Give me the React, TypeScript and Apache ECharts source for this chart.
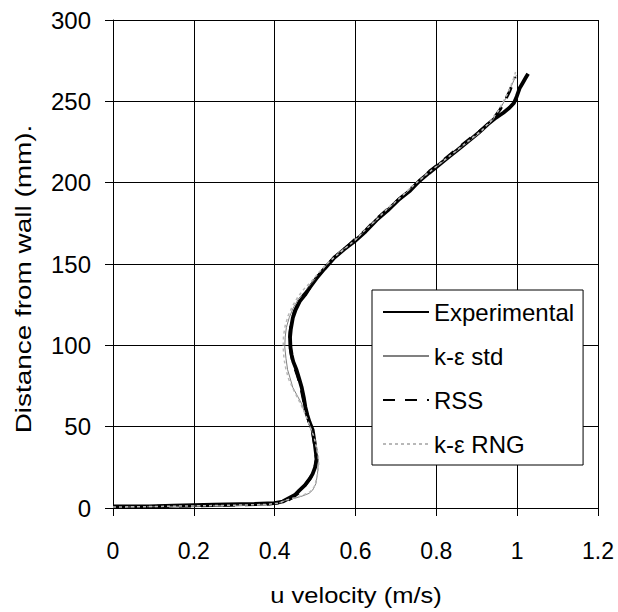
import React, { useEffect, useRef } from "react";
import * as echarts from "echarts";

// [u velocity (m/s), distance from wall (mm)]
const experimental: number[][] = [
  [0, 1], [0.09, 1], [0.15, 1.5], [0.25, 2], [0.35, 2.5], [0.4, 3], [0.42, 4], [0.435, 6], [0.45, 8],
  [0.46, 10.5], [0.475, 14], [0.487, 18], [0.494, 21], [0.5, 25], [0.504, 30], [0.502, 34], [0.499, 40],
  [0.494, 48], [0.486, 53], [0.481, 57], [0.476, 62], [0.472, 68], [0.467, 74], [0.46, 80], [0.454, 85],
  [0.446, 90], [0.442, 94], [0.439, 99], [0.438, 105], [0.44, 110], [0.445, 117], [0.452, 122], [0.462, 127],
  [0.475, 131], [0.488, 136], [0.503, 141], [0.523, 147], [0.548, 154], [0.572, 159], [0.598, 164],
  [0.625, 170], [0.652, 177], [0.68, 183], [0.709, 190], [0.735, 195], [0.758, 201], [0.782, 206],
  [0.807, 211], [0.832, 216], [0.857, 221], [0.882, 226], [0.906, 231], [0.928, 236], [0.948, 240],
  [0.966, 243], [0.981, 246], [0.992, 249], [0.999, 253], [1.006, 258], [1.013, 261], [1.02, 264], [1.027, 267],
];

const kEpsStd: number[][] = [
  [0, 0.5], [0.1, 0.8], [0.2, 1.2], [0.3, 1.6], [0.38, 2], [0.41, 3], [0.43, 5], [0.45, 6], [0.47, 7.5],
  [0.485, 9], [0.494, 11], [0.502, 15], [0.506, 21], [0.508, 28], [0.506, 33], [0.503, 37], [0.497, 43],
  [0.491, 48], [0.485, 52], [0.478, 56], [0.472, 60], [0.467, 64], [0.456, 69], [0.445, 74], [0.438, 80],
  [0.432, 85], [0.428, 92], [0.425, 99], [0.426, 105], [0.429, 111], [0.436, 117], [0.446, 123], [0.46, 129],
  [0.475, 133], [0.49, 138], [0.508, 143], [0.53, 150], [0.552, 156], [0.575, 160], [0.598, 164],
  [0.625, 171], [0.652, 177], [0.68, 184], [0.709, 190], [0.735, 196], [0.758, 201], [0.782, 207],
  [0.807, 211], [0.848, 219], [0.889, 227], [0.915, 232], [0.938, 238], [0.955, 244], [0.968, 250],
  [0.978, 255], [0.985, 259], [0.992, 263], [0.998, 266],
];

const rss: number[][] = [
  [0, 0.8], [0.1, 1], [0.2, 1.3], [0.3, 1.8], [0.38, 2.3], [0.41, 3.2], [0.43, 4.5], [0.445, 6.5], [0.458, 9],
  [0.472, 13], [0.486, 17.5], [0.494, 21], [0.5, 25], [0.503, 30], [0.501, 35], [0.498, 40], [0.493, 48],
  [0.485, 53], [0.479, 58], [0.474, 63], [0.469, 69], [0.464, 75], [0.457, 81], [0.45, 86], [0.444, 91],
  [0.44, 96], [0.437, 102], [0.438, 108], [0.442, 115], [0.449, 121], [0.459, 126], [0.472, 131],
  [0.486, 135], [0.502, 141], [0.522, 147], [0.547, 154], [0.572, 159], [0.598, 165], [0.626, 171],
  [0.653, 178], [0.681, 184], [0.709, 190], [0.735, 196], [0.759, 201], [0.783, 207], [0.808, 212],
  [0.848, 220], [0.888, 228], [0.915, 233], [0.94, 239], [0.958, 245], [0.971, 251], [0.981, 256],
  [0.989, 261], [0.995, 265],
];

const kEpsRng: number[][] = [
  [0, 0.6], [0.1, 0.9], [0.2, 1.3], [0.3, 1.7], [0.38, 2.2], [0.41, 3], [0.43, 5], [0.45, 6.3], [0.47, 7.8],
  [0.488, 10], [0.498, 13], [0.505, 19], [0.509, 26], [0.508, 32], [0.504, 37], [0.497, 44], [0.489, 49],
  [0.48, 55], [0.47, 61], [0.458, 67], [0.446, 73], [0.435, 79], [0.428, 85], [0.423, 92], [0.421, 99],
  [0.422, 106], [0.426, 112], [0.433, 118], [0.444, 124], [0.458, 130], [0.474, 135], [0.49, 139],
  [0.51, 145], [0.533, 151], [0.556, 156], [0.576, 160], [0.596, 164], [0.624, 171], [0.651, 177],
  [0.679, 184], [0.707, 190], [0.733, 196], [0.756, 201], [0.78, 206], [0.805, 211], [0.846, 219],
  [0.886, 227], [0.912, 232], [0.935, 238], [0.953, 244], [0.966, 250], [0.977, 255], [0.985, 260],
  [0.991, 264], [0.996, 268],
];

const seriesNames = ["Experimental", "k-ε std", "RSS", "k-ε RNG"];
const xTitle = "u velocity (m/s)";
const yTitle = "Distance from wall (mm).";

const FONT = '"Liberation Sans", Arial, Helvetica, sans-serif';

export default function App() {
  const ref = useRef<HTMLDivElement>(null);
  useEffect(() => {
    document.body.style.margin = "0";
    if (!ref.current) return;
    const chart = echarts.init(ref.current, null, { renderer: "svg" });
    const axisCommon = {
      type: "value" as const,
      axisLine: { show: true, onZero: false, lineStyle: { color: "#000", width: 1 } },
      axisTick: { show: true, inside: false, length: 8, lineStyle: { color: "#000", width: 1 } },
      splitLine: { show: true, lineStyle: { color: "#000", width: 1 } },
    };
    chart.setOption({
      animation: false,
      backgroundColor: "#fff",
      grid: { left: 113, right: 20, top: 20, bottom: 104, containLabel: false },
      xAxis: {
        ...axisCommon,
        min: 0,
        max: 1.2,
        interval: 0.2,
        axisLabel: { margin: 31, fontSize: 23, color: "#000", fontFamily: FONT },
      },
      yAxis: {
        ...axisCommon,
        min: 0,
        max: 300,
        interval: 50,
        axisLabel: { margin: 22, fontSize: 24, color: "#000", fontFamily: FONT },
      },
      legend: {
        orient: "vertical",
        left: 372,
        top: 290,
        itemWidth: 46,
        itemHeight: 24,
        itemGap: 20,
        padding: [10, 9, 9, 10],
        backgroundColor: "#fff",
        borderColor: "#000",
        borderWidth: 1,
        borderRadius: 0,
        itemStyle: { opacity: 0, borderWidth: 0 },
        textStyle: { fontSize: 24, color: "#000", fontFamily: FONT, lineHeight: 24 },
        data: seriesNames,
      },
      graphic: [
        {
          type: "text",
          x: 356,
          y: 595,
          scaleX: 1.16,
          style: {
            text: xTitle,
            fill: "#000",
            fontSize: 22,
            fontFamily: FONT,
            align: "center",
            verticalAlign: "middle",
            textAlign: "center",
            textVerticalAlign: "middle",
          },
        },
        {
          type: "text",
          x: 23,
          y: 279,
          rotation: Math.PI / 2,
          scaleX: 1.27,
          style: {
            text: yTitle,
            fill: "#000",
            fontSize: 22,
            fontFamily: FONT,
            align: "center",
            verticalAlign: "middle",
            textAlign: "center",
            textVerticalAlign: "middle",
          },
        },
      ],
      series: [
        {
          name: seriesNames[0],
          type: "line",
          data: experimental,
          symbol: "none",
          lineStyle: { color: "#000", width: 3.8 },
          itemStyle: { color: "#000" },
        },
        {
          name: seriesNames[1],
          type: "line",
          data: kEpsStd,
          symbol: "none",
          lineStyle: { color: "#808080", width: 1 },
          itemStyle: { color: "#808080" },
        },
        {
          name: seriesNames[2],
          type: "line",
          data: rss,
          symbol: "none",
          lineStyle: { color: "#000", width: 3, type: [12, 10] },
          itemStyle: { color: "#000" },
        },
        {
          name: seriesNames[3],
          type: "line",
          data: kEpsRng,
          symbol: "none",
          lineStyle: { color: "#b8b8b8", width: 1.5, type: [3, 3] },
          itemStyle: { color: "#b8b8b8" },
        },
      ],
    });
    return () => chart.dispose();
  }, []);
  return <div ref={ref} style={{ width: 618, height: 612 }} />;
}
